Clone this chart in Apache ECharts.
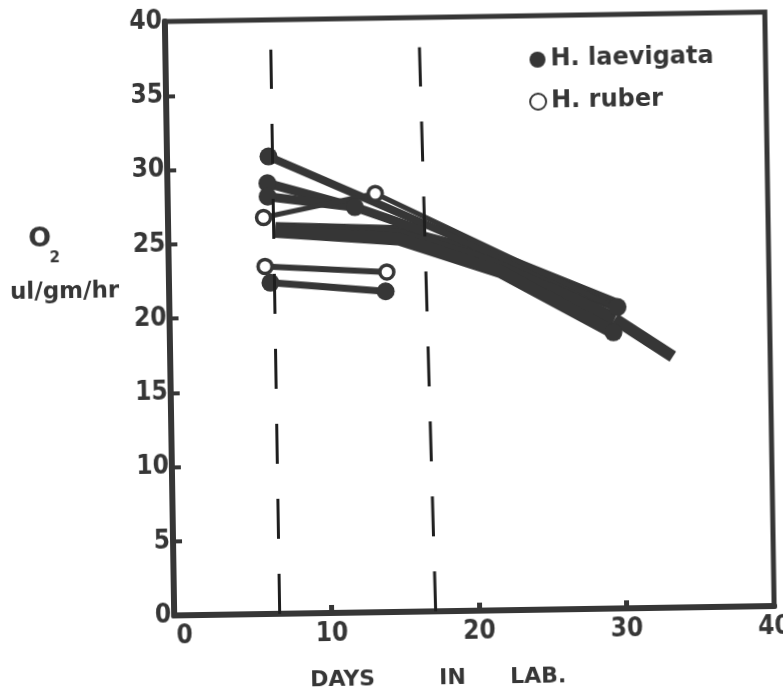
<!DOCTYPE html>
<html>
<head>
<meta charset="utf-8">
<script src="https://cdn.jsdelivr.net/npm/echarts@6/dist/echarts.min.js"></script>
<style>
  html, body { margin: 0; padding: 0; background: #ffffff; }
  #chart {
    position: absolute; left: 0; top: 0; width: 783px; height: 693px;
    transform: rotate(-0.9deg); transform-origin: 50% 50%;
  }
</style>
</head>
<body>
<div id="chart"></div>
<script>
// Axis ticks
const xTickLabels = [0, 10, 20, 30, 40];
const xTickMarks = [10, 20, 30];
const yTickStep = 5;

// Transfer days (dashed verticals): [bottom day, top day]
const transferDay1 = [6.45, 6.45];
const transferDay2 = [17.05, 16.55];

// H. laevigata runs (day, O2 ul/gm/hr)
const laevigataRunA = [[6.2, 30.8], [29.7, 20.3]];
const laevigataRunB = [[6.1, 29.0], [12.0, 27.3], [16.7, 25.6]];
const laevigataRunC = [[6.1, 28.1], [12.0, 27.3]];
const laevigataBandUpper = [[6.6, 25.95], [15.0, 25.6], [21.8, 23.7], [29.7, 20.4]];
const laevigataBandMid = [[6.6, 25.85], [15.0, 25.35], [21.8, 23.25], [29.5, 19.5]];
const laevigataBandLower = [[6.6, 25.75], [15.0, 25.1], [21.8, 22.8], [29.4, 18.6]];
const laevigataTail = [[29.5, 19.5], [33.4, 16.9]];
const laevigataShort = [[6.2, 22.3], [14.0, 21.6]];
const laevigataPoints = [[6.2, 30.8], [6.1, 29.0], [6.1, 28.1], [12.0, 27.3],
                         [6.2, 22.3], [14.0, 21.6], [29.7, 20.3], [29.4, 18.6]];

// H. ruber runs
const ruberRunA = [[5.8, 26.7], [13.4, 28.2], [29.5, 20.3]];
const ruberShort = [[5.85, 23.4], [14.1, 22.9]];
const ruberPoints = [[5.8, 26.7], [13.4, 28.2], [5.85, 23.4], [14.1, 22.9]];

const INK = '#363636';
const FONT = "'DejaVu Sans Condensed', 'DejaVu Sans', sans-serif";

function run(name, data, width, z) {
  return {
    name: name, type: 'line', data: data, showSymbol: false, symbol: 'none',
    silent: true, z: z || 2,
    lineStyle: { color: INK, width: width, cap: 'butt', join: 'round' }
  };
}

const chart = echarts.init(document.getElementById('chart'), null, { renderer: 'canvas' });

chart.setOption({
  animation: false,
  backgroundColor: '#ffffff',
  grid: {
    left: 170, right: 13, top: 18, bottom: 81,
    show: true, borderColor: INK, borderWidth: 5,
    containLabel: false, outerBoundsMode: 'none'
  },
  xAxis: {
    type: 'value', min: -0.68, max: 40,
    splitLine: { show: false },
    axisLine: { show: true, onZero: false, lineStyle: { color: INK, width: 6 } },
    axisTick: { show: true, inside: true, length: 8, customValues: xTickMarks,
                lineStyle: { color: INK, width: 5 } },
    axisLabel: { show: true, customValues: xTickLabels, margin: 8,
                 color: INK, fontFamily: FONT, fontWeight: 'bold', fontSize: 26 }
  },
  yAxis: {
    type: 'value', min: 0, max: 40, interval: yTickStep,
    splitLine: { show: false },
    axisLine: { show: true, onZero: false, lineStyle: { color: INK, width: 6 } },
    axisTick: { show: true, inside: true, length: 9, lineStyle: { color: INK, width: 4 } },
    axisLabel: { show: true, margin: 3, color: INK, fontFamily: FONT,
                 fontWeight: 'bold', fontSize: 26 }
  },
  legend: {
    orient: 'vertical', left: 528, top: 44, itemGap: 16,
    itemWidth: 16, itemHeight: 16, selectedMode: false,
    data: ['H. laevigata', 'H. ruber'],
    textStyle: { color: INK, fontFamily: "'DejaVu Sans', sans-serif",
                 fontWeight: 'bold', fontSize: 24, lineHeight: 26 }
  },
  graphic: [
    { type: 'text', left: 30, top: 220,
      style: { text: 'O', fill: INK, font: "bold 27px 'DejaVu Sans', sans-serif" } },
    { type: 'text', left: 51, top: 246,
      style: { text: '2', fill: INK, font: "bold 15px 'DejaVu Sans', sans-serif" } },
    { type: 'text', left: 11, top: 276,
      style: { text: 'ul/gm/hr', fill: INK, font: "bold 23px 'DejaVu Sans', sans-serif" } },
    { type: 'text', left: 305, top: 668,
      style: { text: 'DAYS', fill: INK, font: "bold 22px 'DejaVu Sans', sans-serif" } },
    { type: 'text', left: 434, top: 668,
      style: { text: 'IN', fill: INK, font: "bold 22px 'DejaVu Sans', sans-serif" } },
    { type: 'text', left: 505, top: 668,
      style: { text: 'LAB.', fill: INK, font: "bold 22px 'DejaVu Sans', sans-serif" } }
  ],
  series: [
    Object.assign(run('band upper', laevigataBandUpper, 13, 2), {
      markLine: {
        silent: true, symbol: ['none', 'none'], label: { show: false },
        lineStyle: { color: '#1e1e1e', width: 3, type: [40, 35] },
        data: [
          [{ coord: [transferDay1[0], 0] }, { coord: [transferDay1[1], 38] }],
          [{ coord: [transferDay2[0], 0] }, { coord: [transferDay2[1], 38] }]
        ]
      }
    }),
    run('band mid', laevigataBandMid, 13, 2),
    run('band lower', laevigataBandLower, 13, 2),
    run('run A', laevigataRunA, 8, 2),
    run('run B', laevigataRunB, 9, 2),
    run('run C', laevigataRunC, 9, 2),
    run('tail', laevigataTail, 12, 2),
    run('short laevigata', laevigataShort, 7, 2),
    run('ruber A', ruberRunA, 5, 2),
    run('ruber short', ruberShort, 6, 2),
    {
      name: 'H. laevigata', type: 'scatter', data: laevigataPoints, z: 4,
      symbol: 'circle', symbolSize: 18, silent: true,
      itemStyle: { color: INK, opacity: 1 }
    },
    {
      name: 'H. ruber', type: 'scatter', data: ruberPoints, z: 5,
      symbol: 'circle', symbolSize: 14, silent: true,
      itemStyle: { color: '#ffffff', borderColor: INK, borderWidth: 3.5, opacity: 1 }
    }
  ]
});
</script>
</body>
</html>
